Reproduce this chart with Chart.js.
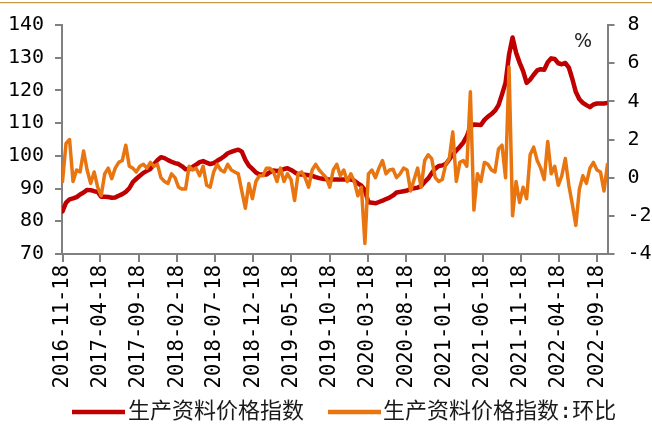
<!DOCTYPE html>
<html><head><meta charset="utf-8">
<script src="https://cdn.jsdelivr.net/npm/chart.js@4.4.1/dist/chart.umd.min.js"></script>
<style>html,body{margin:0;padding:0;background:#fff;}canvas{display:block;}</style>
</head><body>
<canvas id="c" width="652" height="427"></canvas>
<script>
// Categories: biweekly observation dates starting at startDate
const startDate = '2016-11-18';
const stepDays = 14;

const seriesNames = ['生产资料价格指数', '生产资料价格指数:环比'];

// 生产资料价格指数 (left axis)
const indexValues = [
  83.0, 85.7, 86.7, 87.0, 87.4, 88.2, 88.8, 89.6, 89.5, 89.2,
  89.0, 87.5, 87.5, 87.4, 87.2, 87.3, 87.8, 88.3, 89.0, 90.1,
  92.0, 93.0, 93.9, 94.8, 95.4, 96.0, 97.4, 98.7, 99.6, 99.3,
  98.7, 98.2, 97.8, 97.5, 96.8, 95.9, 95.9, 96.6, 97.3, 98.1,
  98.4, 97.9, 97.5, 97.8, 98.5, 99.1, 99.9, 100.8, 101.2, 101.6,
  101.9, 101.3, 98.8, 97.0, 96.0, 94.9, 94.3, 94.3, 94.3, 95.0,
  95.5, 95.4, 95.5, 96.0, 96.2, 95.7, 95.0, 94.4, 94.3, 94.2,
  94.1, 93.9, 93.5, 93.2, 93.0, 92.8, 92.8, 92.8, 92.8, 92.8,
  92.8, 92.8, 92.8, 92.4, 91.6, 90.9, 89.5, 85.8, 85.7, 85.5,
  85.9, 86.3, 86.8, 87.2, 87.9, 88.8, 89.0, 89.2, 89.4, 89.9,
  90.1, 90.3, 90.8, 92.0, 93.1, 94.7, 96.1, 96.9, 97.1, 97.5,
  98.9, 100.4, 101.6, 102.8, 104.1, 106.0, 109.0, 109.6, 109.5, 109.4,
  111.0, 112.0, 112.8, 113.8, 115.5, 118.8, 122.3, 131.0, 136.2, 131.5,
  128.5, 125.9, 122.3, 123.3, 124.8, 126.1, 126.5, 126.3, 128.6, 129.8,
  129.6, 128.3, 128.0, 128.4, 127.0, 123.5, 119.5, 117.3, 116.2, 115.5,
  114.9, 115.7, 116.0, 116.0, 116.0, 116.2
];

// 生产资料价格指数:环比 (right axis, %)
const momValues = [
  -0.2, 1.8, 2.0, -0.2, 0.4, 0.3, 1.4, 0.4, -0.3, 0.3,
  -0.5, -0.95, 0.2, 0.5, -0.05, 0.5, 0.8, 0.9, 1.7, 0.6,
  0.5, 0.3, 0.6, 0.7, 0.5, 0.8, 0.6, 0.7, 0.0, -0.2,
  -0.3, 0.2, 0.0, -0.5, -0.6, -0.6, 0.6, 0.4, 0.5, 0.1,
  0.6, -0.4, -0.5, 0.3, 0.7, 0.4, 0.3, 0.7, 0.4, 0.3,
  0.2, -0.7, -1.6, -0.3, -1.1, -0.2, 0.1, 0.1, 0.5, 0.5,
  0.3, -0.2, 0.5, -0.2, 0.2, -0.1, -1.2, 0.2, 0.3, 0.0,
  -0.5, 0.4, 0.7, 0.4, 0.2, 0.0, -0.5, 0.4, 0.7, 0.1,
  0.4, -0.2, 0.2, -0.2, -0.95, -0.5, -3.45, 0.2, 0.4, 0.0,
  0.5, 0.9, 0.2, 0.4, 0.44, 0.0, 0.2, 0.5, 0.4, -0.7,
  -0.1, 0.5, -0.5, 0.9, 1.2, 1.0, 0.0, -0.2, -0.1, 0.7,
  1.0, 2.4, -0.2, 0.8, 0.9, 0.6, 4.5, -1.7, 0.2, -0.2,
  0.8, 0.7, 0.4, 0.3, 1.5, 1.7, 0.0, 5.8, -2.0, -0.2,
  -1.3, -0.5, -1.1, 1.2, 1.6, 0.9, 0.5, -0.1, 1.9, 0.2,
  0.6, -0.4, 0.1, 1.0, -0.4, -1.4, -2.5, -0.6, 0.1, -0.3,
  0.5, 0.8, 0.4, 0.3, -0.7, 0.7
];

const tickLabels = ['2016-11-18','2017-04-18','2017-09-18','2018-02-18','2018-07-18',
  '2018-12-18','2019-05-18','2019-10-18','2020-03-18','2020-08-18','2021-01-18',
  '2021-06-18','2021-11-18','2022-04-18','2022-09-18'];

const leftTicks = { min: 70, max: 140, step: 10 };
const rightTicks = { min: -4, max: 8, step: 2 };

function toDay(s) { const [y, m, d] = s.split('-').map(Number); return Date.UTC(y, m - 1, d) / 864e5; }
const day0 = toDay(startDate);
const dates = indexValues.map((_, i) => day0 + i * stepDays);

const RED = '#c00000';
const ORANGE = '#e8750f';
const AXIS = '#808080';

Chart.defaults.font.family = "'DejaVu Sans Mono', 'Noto Sans CJK SC', monospace";
Chart.defaults.color = '#000';

// legend layout (positions only)
const legendPos = [
  { lineX: 72, textX: 128 },
  { lineX: 328, textX: 383 }
];

const extras = {
  id: 'extras',
  afterDraw(chart) {
    const ctx = chart.ctx;
    ctx.save();
    ctx.fillStyle = '#c9973f';
    ctx.fillRect(0, 2, 652, 1.2);
    ctx.fillStyle = '#222';
    ctx.font = "19px 'DejaVu Sans'";
    ctx.textAlign = 'center';
    ctx.textBaseline = 'middle';
    ctx.fillText('%', 583, 42);
    // legend
    const ly = 412;
    chart.data.datasets.forEach((ds, i) => {
      const p = legendPos[i];
      ctx.strokeStyle = ds.borderColor;
      ctx.lineWidth = 4.5;
      ctx.beginPath();
      ctx.moveTo(p.lineX, ly);
      ctx.lineTo(p.lineX + 53, ly);
      ctx.stroke();
      ctx.fillStyle = '#1a1a1a';
      ctx.font = "22px 'DejaVu Sans Mono', 'Noto Sans CJK SC'";
      ctx.textAlign = 'left';
      ctx.textBaseline = 'middle';
      ctx.fillText(ds.label, p.textX, ly);
    });
    ctx.restore();
  }
};

new Chart(document.getElementById('c'), {
  type: 'line',
  data: {
    datasets: [
      {
        label: seriesNames[0],
        data: indexValues.map((v, i) => ({ x: dates[i], y: v })),
        yAxisID: 'y', borderColor: RED, backgroundColor: RED,
        borderWidth: 4.5, pointRadius: 0, tension: 0, order: 1,
        borderJoinStyle: 'round', borderCapStyle: 'round'
      },
      {
        label: seriesNames[1],
        data: momValues.map((v, i) => ({ x: dates[i], y: v })),
        yAxisID: 'y1', borderColor: ORANGE, backgroundColor: ORANGE,
        borderWidth: 3.5, pointRadius: 0, tension: 0, order: 0,
        borderJoinStyle: 'round', borderCapStyle: 'round'
      }
    ]
  },
  options: {
    responsive: false, animation: false, devicePixelRatio: 1, events: [],
    layout: { padding: { left: 0, right: 0, top: 22, bottom: 0 } },
    plugins: {
      tooltip: { enabled: false },
      legend: { display: false }
    },
    scales: {
      x: {
        type: 'linear', position: 'bottom',
        min: day0 - 2, max: dates[dates.length - 1],
        afterBuildTicks: (s) => { s.ticks = tickLabels.map(t => ({ value: toDay(t) })); },
        afterFit: (s) => { s.height = 173; },
        ticks: {
          autoSkip: false, maxRotation: 90, minRotation: 90, padding: 3,
          color: '#000', font: { size: 20.5 },
          callback: (v, i) => tickLabels[i]
        },
        grid: { drawOnChartArea: false, drawTicks: true, tickLength: 8, color: AXIS, lineWidth: 2 },
        border: { color: AXIS, width: 2 }
      },
      y: {
        position: 'left', min: leftTicks.min, max: leftTicks.max,
        afterFit: (s) => { s.width = 62; },
        ticks: { stepSize: leftTicks.step, padding: 11, color: '#000', font: { size: 20 } },
        grid: { drawOnChartArea: false, drawTicks: true, tickLength: 7, color: AXIS, lineWidth: 2 },
        border: { color: AXIS, width: 2 }
      },
      y1: {
        position: 'right', min: rightTicks.min, max: rightTicks.max,
        afterFit: (s) => { s.width = 44.5; },
        ticks: { stepSize: rightTicks.step, padding: 13, color: '#000', font: { size: 20 } },
        grid: { drawOnChartArea: false, drawTicks: true, tickLength: 7, color: AXIS, lineWidth: 2 },
        border: { color: AXIS, width: 2 }
      }
    }
  },
  plugins: [extras]
});
</script>
</body></html>
